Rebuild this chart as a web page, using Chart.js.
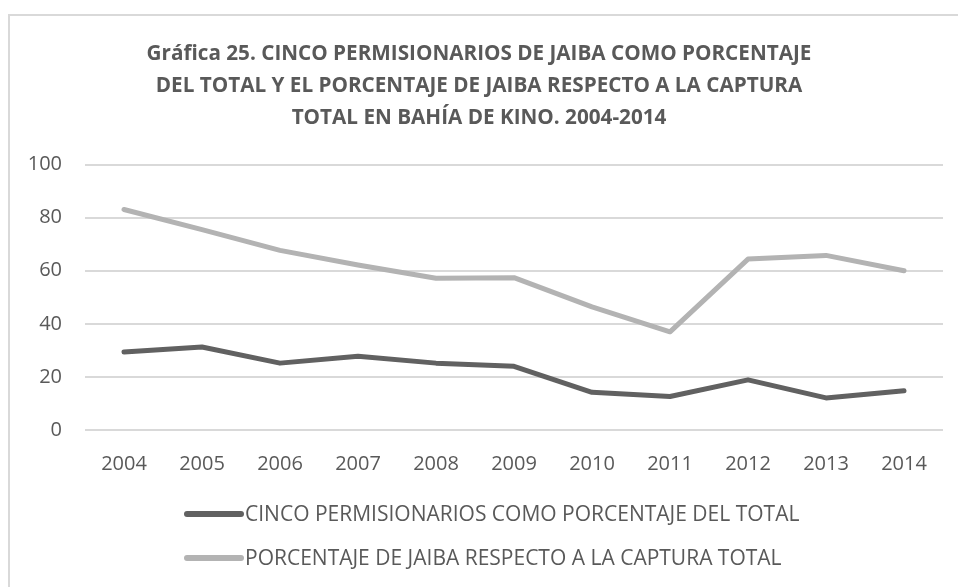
<!DOCTYPE html>
<html>
<head>
<meta charset="utf-8">
<script src="https://cdn.jsdelivr.net/npm/chart.js@4"></script>
<style>
  html, body { margin: 0; padding: 0; background: #fff; }
  #wrap { width: 958px; height: 587px; }
</style>
</head>
<body>
<div id="wrap"><canvas id="chart" width="958" height="587"></canvas></div>
<script>
const years = ['2004', '2005', '2006', '2007', '2008', '2009', '2010', '2011', '2012', '2013', '2014'];
const cincoPermisionarios = [29.4, 31.3, 25.2, 27.8, 25.2, 24.0, 14.2, 12.6, 18.9, 12.1, 14.8];
const porcentajeJaiba = [83.1, 75.5, 67.7, 62.2, 57.2, 57.4, 46.4, 37.0, 64.4, 65.8, 60.0];
const seriesNames = [
  'CINCO PERMISIONARIOS COMO PORCENTAJE DEL TOTAL',
  'PORCENTAJE DE JAIBA RESPECTO A LA CAPTURA TOTAL'
];
const titleLines = [
  'Gráfica 25. CINCO PERMISIONARIOS DE JAIBA COMO PORCENTAJE',
  'DEL TOTAL Y EL PORCENTAJE DE JAIBA RESPECTO A LA CAPTURA',
  'TOTAL EN BAHÍA DE KINO. 2004-2014'
];

const textColor = '#595959';
const fontFamily = '"Open Sans", sans-serif';

// frame around the chart + legend drawn as two stacked rows
const framePlugin = {
  id: 'frame',
  beforeDraw(chart) {
    const ctx = chart.ctx;
    ctx.save();
    ctx.strokeStyle = '#d9d9d9';
    ctx.lineWidth = 2;
    ctx.strokeRect(9, 15, 1200, 1200);
    ctx.restore();
  },
  afterDraw(chart) {
    const ctx = chart.ctx;
    ctx.save();
    chart.data.datasets.forEach((ds, i) => {
      const y = 514 + i * 44;
      ctx.strokeStyle = ds.borderColor;
      ctx.lineWidth = 6;
      ctx.lineCap = 'round';
      ctx.beginPath();
      ctx.moveTo(187, y);
      ctx.lineTo(241, y);
      ctx.stroke();
      ctx.fillStyle = textColor;
      ctx.font = '21px ' + fontFamily;
      ctx.textBaseline = 'middle';
      ctx.fillText(ds.label, 245, y + 1);
    });
    ctx.restore();
  }
};

new Chart(document.getElementById('chart'), {
  type: 'line',
  data: {
    labels: years,
    datasets: [
      {
        label: seriesNames[0],
        data: cincoPermisionarios,
        borderColor: '#616161',
        borderWidth: 5,
        pointRadius: 0,
        tension: 0,
        borderCapStyle: 'round',
        borderJoinStyle: 'round'
      },
      {
        label: seriesNames[1],
        data: porcentajeJaiba,
        borderColor: '#b3b3b3',
        borderWidth: 5,
        pointRadius: 0,
        tension: 0,
        borderCapStyle: 'round',
        borderJoinStyle: 'round'
      }
    ]
  },
  options: {
    responsive: false,
    animation: false,
    layout: {
      padding: { left: 15, right: 15, top: 30, bottom: 97 }
    },
    plugins: {
      legend: { display: false },
      tooltip: { enabled: false },
      title: {
        display: true,
        text: titleLines,
        color: textColor,
        font: { family: fontFamily, size: 20.7, weight: 'bold', lineHeight: 1.54 },
        padding: { top: 8, bottom: 31 }
      }
    },
    scales: {
      x: {
        offset: true,
        grid: { display: false },
        border: { display: false },
        ticks: {
          color: textColor,
          font: { family: fontFamily, size: 20 },
          padding: 14
        }
      },
      y: {
        min: 0,
        max: 100,
        afterFit(scale) {
          scale.width = 70;
        },
        grid: { color: '#d9d9d9', lineWidth: 2, drawTicks: false },
        border: { display: false },
        ticks: {
          stepSize: 20,
          color: textColor,
          font: { family: fontFamily, size: 20 },
          padding: 23
        }
      }
    }
  },
  plugins: [framePlugin]
});
</script>
</body>
</html>
